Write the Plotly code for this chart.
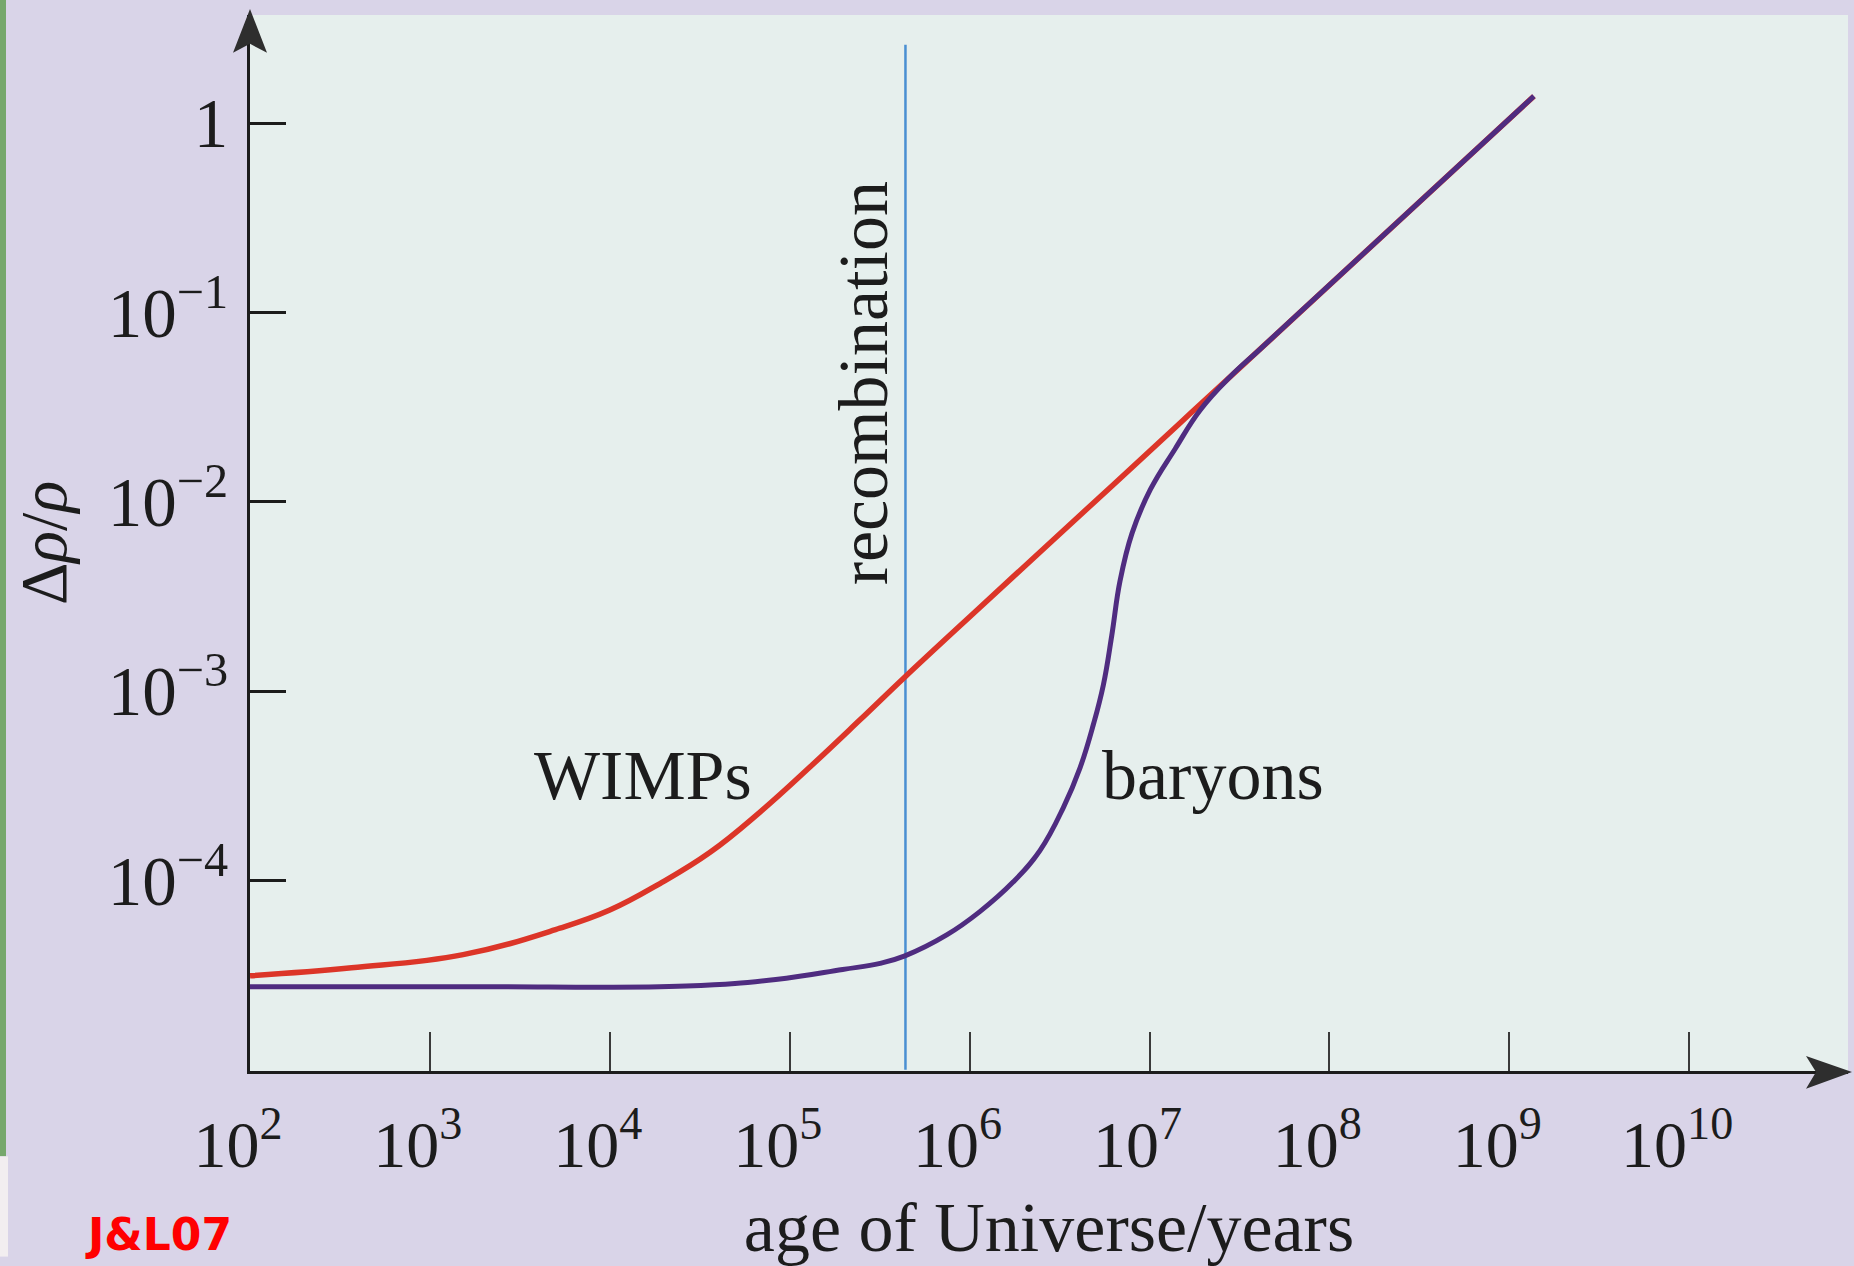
import plotly.graph_objects as go

# Growth of density perturbations: WIMPs vs baryons (schematic, log-log)
wimp_age = [1.0e2, 3.67e2, 1.53e3, 5.28e3, 1.0e4, 1.90e4, 3.61e4, 6.84e4, 1.30e5, 2.46e5,
            4.37e5, 1.14e6, 2.68e6, 6.27e6, 1.48e7, 1.91e7, 2.80e7, 4.11e7, 6.87e7, 1.37e9]
wimp_amp = [3.14e-5, 3.46e-5, 4.06e-5, 5.60e-5, 6.98e-5, 9.64e-5, 1.41e-4, 2.30e-4, 3.99e-4, 7.06e-4,
            1.19e-3, 2.77e-3, 5.85e-3, 1.23e-2, 2.61e-2, 3.27e-2, 4.57e-2, 6.40e-2, 1.005e-1, 1.39]

baryon_age = [1.0e2, 1.6e3, 2.66e4, 8.36e4, 1.97e5, 3.18e5, 4.37e5, 7.46e5, 1.14e6, 1.75e6,
              2.46e6, 3.32e6, 4.11e6, 4.87e6, 5.54e6, 6.17e6, 6.86e6, 8.00e6, 1.01e7, 1.39e7,
              1.91e7, 2.80e7, 4.11e7, 6.87e7, 1.37e9]
baryon_amp = [2.75e-5, 2.75e-5, 2.77e-5, 3.00e-5, 3.39e-5, 3.65e-5, 4.00e-5, 5.16e-5, 6.85e-5, 9.84e-5,
              1.44e-4, 2.43e-4, 3.94e-4, 6.65e-4, 1.08e-3, 1.97e-3, 3.83e-3, 6.84e-3, 1.16e-2, 1.91e-2,
              3.05e-2, 4.57e-2, 6.40e-2, 1.005e-1, 1.39]

recombination_age = 4.4e5
recombination_top = 2.6
axis_floor = 1.0e-5

x_tickvals = [1e2, 1e3, 1e4, 1e5, 1e6, 1e7, 1e8, 1e9, 1e10]
x_ticktext = ["10<sup>2</sup>", "10<sup>3</sup>", "10<sup>4</sup>", "10<sup>5</sup>",
              "10<sup>6</sup>", "10<sup>7</sup>", "10<sup>8</sup>", "10<sup>9</sup>",
              "10<sup>10</sup>"]
y_tickvals = [1e-4, 1e-3, 1e-2, 1e-1, 1]
y_ticktext = ["10<sup>−4</sup>", "10<sup>−3</sup>", "10<sup>−2</sup>", "10<sup>−1</sup>", "1"]

W, H = 1854, 1266
PL, PR, PT, PB = 250, 1848, 15, 1079
SERIF = "Liberation Serif, Times New Roman, serif"
INK = "#1c1c1c"
PAPER = "#d9d4e8"
PLOT = "#e6efed"


def px(x):
    return (x - PL) / (PR - PL)


def py(y):
    return (PB - y) / (PB - PT)


fig = go.Figure()

fig.add_trace(go.Scatter(
    x=[recombination_age, recombination_age], y=[axis_floor, recombination_top],
    mode="lines", line=dict(color="#4a8fd2", width=2.5), hoverinfo="skip"))

fig.add_trace(go.Scatter(
    x=wimp_age, y=wimp_amp, mode="lines",
    line=dict(color="#dc3528", width=5.5, shape="spline", smoothing=1.2),
    hoverinfo="skip"))

fig.add_trace(go.Scatter(
    x=baryon_age, y=baryon_amp, mode="lines",
    line=dict(color="#4f2c80", width=5, shape="spline", smoothing=1.2),
    hoverinfo="skip"))

shapes = [
    # arrowhead on the vertical axis
    dict(type="path", xref="paper", yref="paper",
         path=f"M {px(250)},{py(9)} L {px(267)},{py(53)} L {px(250)},{py(44)} "
              f"L {px(233)},{py(53)} Z",
         fillcolor="#2e2e2e", line=dict(width=0)),
    # arrowhead on the horizontal axis
    dict(type="path", xref="paper", yref="paper",
         path=f"M {px(1852)},{py(1080)} L {px(1806)},{py(1064)} L {px(1816)},{py(1080)} "
              f"L {px(1806)},{py(1097)} Z",
         fillcolor="#2e2e2e", line=dict(width=0)),
    # page edge strip
    dict(type="rect", xref="paper", yref="paper",
         x0=px(0), x1=px(6), y0=py(1165), y1=py(0),
         fillcolor="#76a86c", line=dict(width=0), layer="above"),
    dict(type="rect", xref="paper", yref="paper",
         x0=px(0), x1=px(8), y0=py(1266), y1=py(1165),
         fillcolor="#f2eef0", line=dict(width=0), layer="above"),
]

annotations = [
    dict(text="WIMPs", x=3.568, y=-3.659, xref="x", yref="y",
         xanchor="left", yanchor="bottom", showarrow=False,
         font=dict(family=SERIF, size=70, color=INK)),
    dict(text="baryons", x=6.725, y=-3.659, xref="x", yref="y",
         xanchor="left", yanchor="bottom", showarrow=False,
         font=dict(family=SERIF, size=70, color=INK)),
    dict(text="recombination", x=5.407, y=-1.374, xref="x", yref="y",
         xanchor="center", yanchor="middle", textangle=-90, showarrow=False,
         font=dict(family=SERIF, size=70, color=INK)),
    dict(text="<b>J&amp;L07</b>", x=px(83), y=py(1244), xref="paper", yref="paper",
         xanchor="left", yanchor="middle", showarrow=False,
         font=dict(family="DejaVu Sans", size=44, color="#ff0000")),
]

fig.update_layout(
    width=W, height=H, autosize=False,
    margin=dict(l=PL, r=W - PR, t=PT, b=H - PB, pad=0),
    paper_bgcolor=PAPER, plot_bgcolor=PLOT,
    showlegend=False,
    shapes=shapes, annotations=annotations,
    xaxis=dict(
        type="log", range=[2, 2 + (PR - PL) / 179.9],
        showgrid=False, zeroline=False,
        showline=True, linecolor=INK, linewidth=3,
        ticks="inside", ticklen=39, tickwidth=2, tickcolor="#3a3a3a",
        tickvals=x_tickvals, ticktext=x_ticktext,
        tickfont=dict(family=SERIF, size=66, color=INK),
        ticklabelstandoff=14, ticklabelshift=-12,
        title=dict(text="age of Universe/years", standoff=30,
                   font=dict(family=SERIF, size=70, color=INK)),
    ),
    yaxis=dict(
        type="log", range=[-5.006, -5.006 + (PB - PT) / 190.75],
        showgrid=False, zeroline=False,
        showline=True, linecolor=INK, linewidth=3,
        ticks="inside", ticklen=36, tickwidth=3, tickcolor=INK,
        tickvals=y_tickvals, ticktext=y_ticktext,
        tickfont=dict(family=SERIF, size=69, color=INK),
        ticklabelstandoff=5,
        title=dict(text="Δ<i>ρ</i>/<i>ρ</i>", standoff=20,
                   font=dict(family=SERIF, size=66, color=INK)),
    ),
)

fig.write_html("out.html")
